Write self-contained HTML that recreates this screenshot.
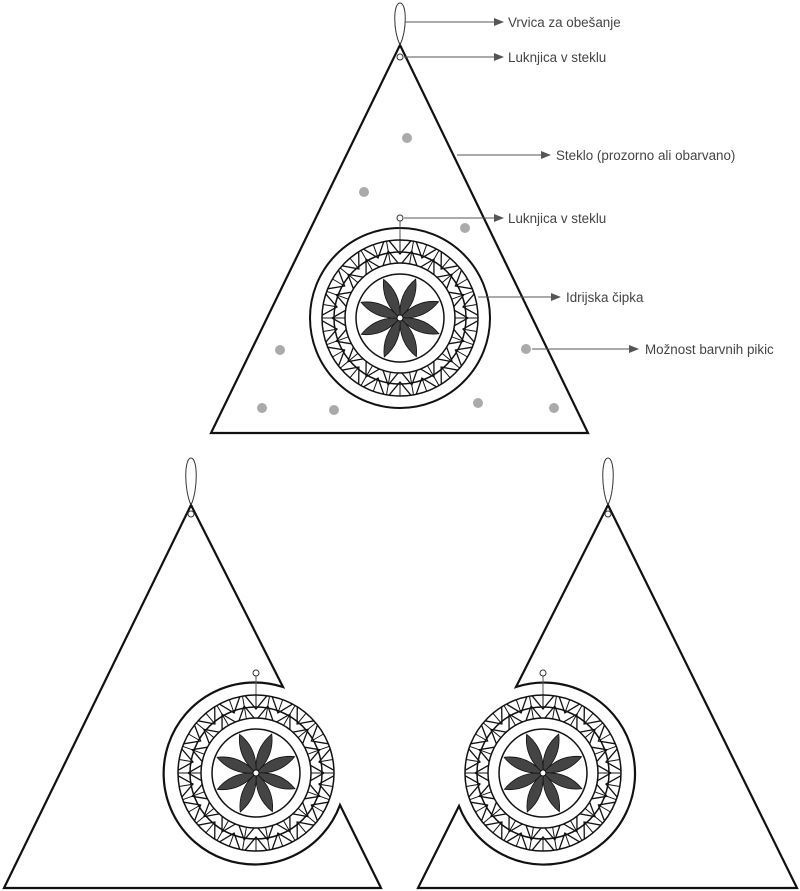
<!DOCTYPE html>
<html><head><meta charset="utf-8"><style>
html,body{margin:0;padding:0;background:#fff;}
svg{display:block;}
text{font-family:"Liberation Sans",sans-serif;font-size:13.4px;fill:#444;}
</style></head><body>
<svg id="s" width="800" height="891" viewBox="0 0 800 891" xmlns="http://www.w3.org/2000/svg">
<defs>
<marker id="ar" markerWidth="10" markerHeight="8" refX="9" refY="4" orient="auto" markerUnits="userSpaceOnUse">
<path d="M0,0 L10,4 L0,8 z" fill="#555"/></marker>
</defs>
<path d="M400,45 L588,433 L211,433 Z" fill="none" stroke="#111" stroke-width="2.2" stroke-linejoin="miter"/>
<path d="M400,45 C393,30 393,3 400,3 C407,3 407,30 400,45" fill="none" stroke="#333" stroke-width="1"/>
<circle cx="400" cy="57" r="3" fill="#fff" stroke="#333" stroke-width="1"/>
<g fill="#aaa">
<circle cx="407" cy="138" r="5"/><circle cx="364" cy="192" r="5"/><circle cx="465" cy="228" r="5"/>
<circle cx="280" cy="350" r="5"/><circle cx="526" cy="349" r="5"/><circle cx="262" cy="408" r="5"/>
<circle cx="334" cy="410" r="5"/><circle cx="478" cy="403" r="5"/><circle cx="554" cy="408" r="5"/>
</g>
<circle cx="400" cy="318" r="90" fill="none" stroke="#111" stroke-width="2"/>
<g stroke="#555" stroke-width="1" marker-end="url(#ar)">
<line x1="405" y1="22" x2="503" y2="22"/>
<line x1="404" y1="57" x2="503" y2="57"/>
<line x1="457" y1="155" x2="550" y2="155"/>
<line x1="404" y1="218" x2="503" y2="218"/>
<line x1="478" y1="297" x2="560" y2="297"/>
<line x1="532" y1="349" x2="638" y2="349"/>
</g>
<text x="508" y="27">Vrvica za obešanje</text>
<text x="508" y="62">Luknjica v steklu</text>
<text x="556" y="160">Steklo (prozorno ali obarvano)</text>
<text x="508" y="223">Luknjica v steklu</text>
<text x="566" y="302">Idrijska čipka</text>
<text x="645" y="354">Možnost barvnih pikic</text>

<path d="M4,888 L191,505 L283,687 A91,91 0 1 0 340,805 L381,888 Z" fill="none" stroke="#111" stroke-width="2.2"/>
<path d="M191,505 C184,490 184,458 191,458 C198,458 198,490 191,505" fill="none" stroke="#333" stroke-width="1"/>
<circle cx="191" cy="514" r="3" fill="#fff" stroke="#333" stroke-width="1"/>
<path d="M797,888 L608,505 L516,687 A91,91 0 1 1 459,806 L418,888 Z" fill="none" stroke="#111" stroke-width="2.2"/>
<path d="M608,505 C601,490 601,458 608,458 C615,458 615,490 608,505" fill="none" stroke="#333" stroke-width="1"/>
<circle cx="608" cy="514" r="3" fill="#fff" stroke="#333" stroke-width="1"/>
<g id="m"></g>
</svg>
<script>
(function(){
var NS="http://www.w3.org/2000/svg",g=document.getElementById("m");
function el(n,a){var e=document.createElementNS(NS,n);for(var k in a)e.setAttribute(k,a[k]);g.appendChild(e);return e;}
function mand(cx,cy){
  el("line",{x1:cx,y1:cy-100,x2:cx,y2:cy-78,stroke:"#555","stroke-width":1});
  el("circle",{cx:cx,cy:cy-100,r:3,fill:"#fff",stroke:"#333","stroke-width":1});
  [78,66,55,44].forEach(function(r){el("circle",{cx:cx,cy:cy,r:r,fill:"none",stroke:"#111","stroke-width":1.5});});
  var N=18,d1="",d2="",d3="";
  function p(r,a){return (cx+r*Math.sin(a)).toFixed(1)+","+(cy-r*Math.cos(a)).toFixed(1);}
  for(var i=0;i<N;i++){
    var a=i*2*Math.PI/N,h=Math.PI/N;
    d1+="M"+p(78,a-h*0.8)+"L"+p(64,a)+"L"+p(78,a+h*0.8);
    d2+="M"+p(55,a+h*0.2)+"L"+p(68,a+h)+"L"+p(55,a+h*1.8);
    d3+="M"+p(78,a+h)+"L"+p(55,a+h)+"M"+p(78,a)+"L"+p(66,a);
  }
  el("path",{d:d1+d2,fill:"none",stroke:"#111","stroke-width":1.3});
  el("path",{d:d3,fill:"none",stroke:"#111","stroke-width":1});
  for(var k=0;k<8;k++){
    var ang=k*45+22;
    el("path",{d:"M"+cx+","+cy+" Q"+(cx+11)+","+(cy-22)+" "+cx+","+(cy-42)+" Q"+(cx-11)+","+(cy-22)+" "+cx+","+cy+"Z",fill:"#444",stroke:"#111","stroke-width":0.8,transform:"rotate("+ang+" "+cx+" "+cy+")"});
  }
  el("circle",{cx:cx,cy:cy,r:3,fill:"#fff",stroke:"#111","stroke-width":1});
}
mand(400,318);mand(256,773);mand(543,773);
})();
</script>
</body></html>
